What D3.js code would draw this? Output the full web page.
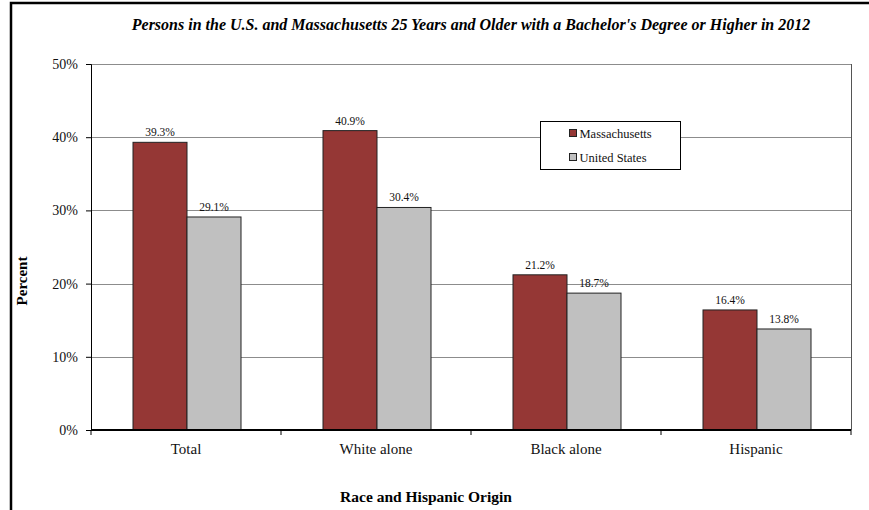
<!DOCTYPE html>
<html>
<head>
<meta charset="utf-8">
<script src="https://cdn.jsdelivr.net/npm/d3@7"></script>
<style>
  body { margin: 0; background: #fff; }
  svg { display: block; font-family: "Liberation Serif", "Times New Roman", "DejaVu Serif", serif; }
</style>
</head>
<body>
<div id="chart"></div>
<script>
// Data
let categories = ['Total', 'White alone', 'Black alone', 'Hispanic']
let massachusetts = [39.3, 40.9, 21.2, 16.4]
let unitedStates = [29.1, 30.4, 18.7, 13.8]
let seriesNames = ['Massachusetts', 'United States']
let yTicks = [0, 10, 20, 30, 40, 50]

let colors = ['#953735', '#c0c0c0']
let serif = '"Liberation Serif", "Times New Roman", "DejaVu Serif", serif'

let svgWidth = 869
let svgHeight = 510
let margin = { top: 64, left: 91, right: 18, bottom: 80 }
let width = svgWidth - margin.left - margin.right
let height = svgHeight - margin.top - margin.bottom

let svg = d3
  .select('#chart')
  .append('svg')
  .attr('width', svgWidth)
  .attr('height', svgHeight)

// outer chart frame (cropped on right and bottom)
svg
  .append('rect')
  .attr('x', 11)
  .attr('y', 3)
  .attr('width', svgWidth + 20)
  .attr('height', svgHeight + 20)
  .attr('fill', 'none')
  .attr('stroke', '#000')
  .attr('stroke-width', 2.5)

let g = svg
  .append('g')
  .attr('transform', `translate(${margin.left},${margin.top})`)

// Scales
let xPositionScale = d3
  .scaleBand()
  .domain(categories)
  .range([0, width])

let xInner = d3
  .scaleBand()
  .domain(seriesNames)
  .range([0, 108])

let yPositionScale = d3
  .scaleLinear()
  .domain([0, 50])
  .range([height, 0])

// gridlines
g.selectAll('.grid')
  .data(yTicks.filter(d => d > 0))
  .enter()
  .append('line')
  .attr('class', 'grid')
  .attr('x1', 0)
  .attr('x2', width)
  .attr('y1', d => Math.round(yPositionScale(d)) + 0.5)
  .attr('y2', d => Math.round(yPositionScale(d)) + 0.5)
  .attr('stroke', '#8c8c8c')
  .attr('stroke-width', 1)

// plot area right border
g.append('line')
  .attr('x1', width + 0.5)
  .attr('x2', width + 0.5)
  .attr('y1', 0)
  .attr('y2', height)
  .attr('stroke', '#555')

// bars
let groups = g
  .selectAll('.group')
  .data(categories)
  .enter()
  .append('g')
  .attr('class', 'group')
  .attr('transform', d => {
    let x = xPositionScale(d) + (xPositionScale.bandwidth() - 108) / 2 + 1
    return `translate(${x},0)`
  })

groups.each(function(cat, i) {
  let grp = d3.select(this)
  let values = [massachusetts[i], unitedStates[i]]
  values.forEach((v, j) => {
    grp
      .append('rect')
      .attr('x', xInner(seriesNames[j]))
      .attr('y', yPositionScale(v))
      .attr('width', xInner.bandwidth())
      .attr('height', height - yPositionScale(v))
      .attr('fill', colors[j])
      .attr('stroke', '#222')
      .attr('stroke-width', 1)

    grp
      .append('text')
      .text(v.toFixed(1) + '%')
      .attr('x', xInner(seriesNames[j]) + xInner.bandwidth() / 2)
      .attr('y', yPositionScale(v) - 6)
      .attr('text-anchor', 'middle')
      .attr('font-size', 11.5)
      .attr('fill', '#111')
  })
})

// Axes
let yAxis = d3
  .axisLeft(yPositionScale)
  .tickValues(yTicks)
  .tickFormat(d => d + '%')
  .tickSize(5)
  .tickPadding(8)

g.append('g')
  .attr('class', 'axis y-axis')
  .call(yAxis)
  .call(a => a.select('.domain').attr('stroke', '#000'))
  .selectAll('text')
  .attr('font-size', 14)
  .attr('font-family', serif)
  .attr('fill', '#111')

let xAxis = d3.axisBottom(xPositionScale).tickSize(0).tickPadding(13)

let xAxisG = g
  .append('g')
  .attr('class', 'axis x-axis')
  .attr('transform', `translate(0,${height})`)
  .call(xAxis)

xAxisG
  .select('.domain')
  .attr('stroke', '#000')
  .attr('stroke-width', 2)
  .attr('d', `M0,0H${width}`)

xAxisG
  .selectAll('text')
  .attr('font-size', 15)
  .attr('font-family', serif)
  .attr('fill', '#111')

// ticks between categories
xAxisG
  .selectAll('.sep')
  .data(d3.range(categories.length + 1))
  .enter()
  .append('line')
  .attr('class', 'sep')
  .attr('x1', d => d * xPositionScale.step())
  .attr('x2', d => d * xPositionScale.step())
  .attr('y1', 0)
  .attr('y2', 5)
  .attr('stroke', '#000')

// Title and axis labels
svg
  .append('text')
  .text("Persons in the U.S. and Massachusetts 25 Years and Older with a Bachelor's Degree or Higher in 2012")
  .attr('x', margin.left + width / 2)
  .attr('y', 30)
  .attr('text-anchor', 'middle')
  .attr('font-size', 16)
  .attr('font-weight', 'bold')
  .attr('font-style', 'italic')

svg
  .append('text')
  .text('Percent')
  .attr('transform', 'translate(27,281) rotate(-90)')
  .attr('text-anchor', 'middle')
  .attr('font-size', 15)
  .attr('font-weight', 'bold')

svg
  .append('text')
  .text('Race and Hispanic Origin')
  .attr('x', 426)
  .attr('y', 502)
  .attr('text-anchor', 'middle')
  .attr('font-size', 15.5)
  .attr('font-weight', 'bold')

// Legend
let legend = svg.append('g').attr('transform', 'translate(540.5,121.5)')

legend
  .append('rect')
  .attr('width', 140)
  .attr('height', 48)
  .attr('fill', '#fff')
  .attr('stroke', '#000')

seriesNames.forEach((name, i) => {
  legend
    .append('rect')
    .attr('x', 29)
    .attr('y', 8 + i * 24)
    .attr('width', 7)
    .attr('height', 7)
    .attr('fill', colors[i])
    .attr('stroke', '#222')

  legend
    .append('text')
    .text(name)
    .attr('x', 39)
    .attr('y', 16 + i * 24)
    .attr('font-size', 12.5)
    .attr('fill', '#111')
})
</script>
</body>
</html>
